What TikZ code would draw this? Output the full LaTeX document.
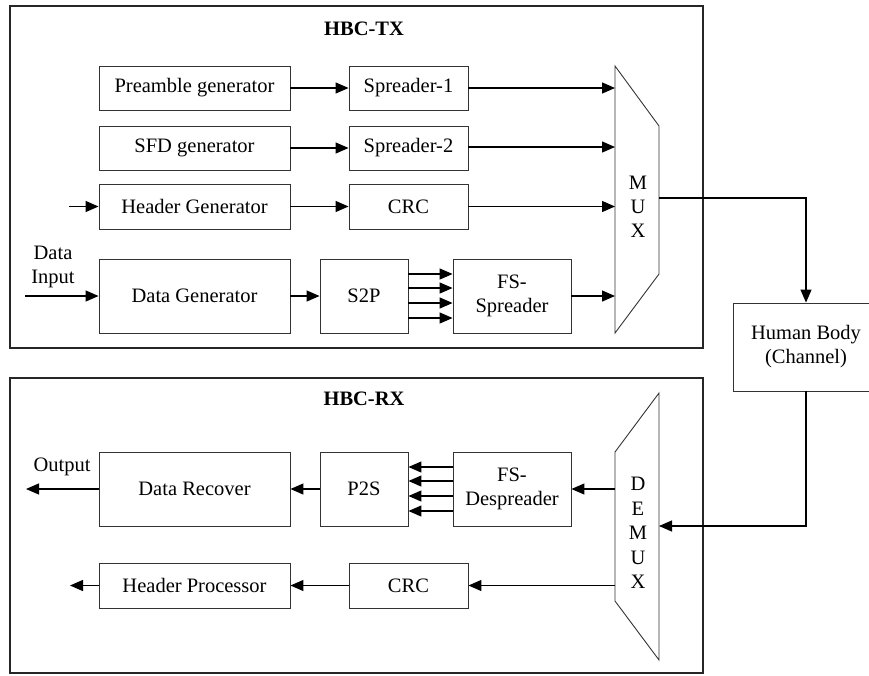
\documentclass[tikz,border=0pt]{standalone}
\usepackage{fontspec}
\setmainfont{Liberation Serif}
\usetikzlibrary{arrows.meta}
\begin{document}
\begin{tikzpicture}[x=1pt,y=-1pt,
  font=\fontsize{20.5}{24}\selectfont,
  blk/.style={draw=black!80,line width=0.9pt,rectangle,minimum height=44pt,inner sep=0pt,align=center},
  frame/.style={draw=black!85,line width=1.3pt},
  arr/.style={line width=1.3pt,-{Triangle[length=13pt,width=11pt]}},
  ln/.style={line width=1.3pt}]
\useasboundingbox (0,0) rectangle (869,675);
\clip (0,0) rectangle (869,675);
% frames
\draw[frame] (10,6) rectangle (703,348);
\draw[frame] (10,378) rectangle (703,673);
\node[font=\fontsize{20.5}{24}\selectfont\bfseries] (txt) at (364,29) {HBC-TX};
\node[font=\fontsize{20.5}{24}\selectfont\bfseries] (rxt) at (364,399) {HBC-RX};
% TX blocks
\node[blk,minimum width=191pt] (pre) at (194.5,88) {Preamble generator};
\node[blk,minimum width=119pt] (sp1) at (408.5,88) {Spreader-1};
\node[blk,minimum width=191pt] (sfd) at (194.5,148) {SFD generator};
\node[blk,minimum width=119pt] (sp2) at (408.5,148) {Spreader-2};
\node[blk,minimum width=191pt,minimum height=45pt] (hg) at (194.5,206.5) {Header Generator};
\node[blk,minimum width=119pt,minimum height=45pt] (crca) at (408.5,206.5) {CRC};
\node[blk,minimum width=191pt,minimum height=74pt] (dg) at (194.5,296) {Data Generator};
\node[blk,minimum width=88pt,minimum height=74pt] (s2p) at (364,296) {S2P};
\node[blk,minimum width=118pt,minimum height=74pt] (fss) at (512,296) {FS-\\Spreader};
% MUX
\draw[line width=0.9pt,draw=black!80] (615,66) -- (659,126) -- (659,274) -- (615,333) -- cycle;
\coordinate (muxL) at (615,200);
\coordinate (muxout) at (659,198);
\node[align=center,font=\fontsize{20.5}{24}\selectfont] (muxt) at (638,207) {M\\U\\X};
% Human body
\node[blk,minimum width=146pt,minimum height=88pt] (hb) at (806,347) {Human Body\\(Channel)};
% RX blocks
\node[blk,minimum width=191pt,minimum height=74pt] (dr) at (194.5,489) {Data Recover};
\node[blk,minimum width=88pt,minimum height=74pt] (p2s) at (364,489) {P2S};
\node[blk,minimum width=118pt,minimum height=74pt] (fsd) at (512,489) {FS-\\Despreader};
\node[blk,minimum width=191pt,minimum height=45pt] (hp) at (194.5,585.5) {Header Processor};
\node[blk,minimum width=119pt,minimum height=45pt] (crcb) at (408.5,585.5) {CRC};
% DEMUX
\draw[line width=0.9pt,draw=black!80] (615,452) -- (659,393) -- (659,660) -- (615,601) -- cycle;
\coordinate (dmxL) at (615,500);
\coordinate (dmxin) at (659,526);
\node[align=center,font=\fontsize{20.5}{24.4}\selectfont] (dmxt) at (638,533) {D\\E\\M\\U\\X};
% TX connectors
\draw[arr] (pre.east) -- (sp1.west);
\draw[arr] (sfd.east) -- (sp2.west);
\draw[arr] (hg.east) -- (crca.west);
\draw[arr] (dg.east) -- (s2p.west);
\draw[arr] (sp1.east) -- (sp1.east -| muxL);
\draw[arr] (sp2.east |- 0,147) -- (muxL |- 0,147);
\draw[arr] (crca.east) -- (crca.east -| muxL);
\draw[arr] (fss.east) -- (fss.east -| muxL);
\foreach \yy in {274,288,303,318}{
  \draw[arr] (s2p.east |- 0,\yy) -- (fss.west |- 0,\yy);
}
\coordinate (hin) at (69,206.5);
\coordinate (din) at (25,296);
\draw[arr] (hin) -- (hg.west);
\draw[arr] (din) -- (dg.west);
\node[align=center,font=\fontsize{20.5}{24}\selectfont] (dinl) at (53,267) {Data\\Input};
% channel
\draw[arr] (muxout) -| (hb.north);
\draw[arr] (hb.south) |- (dmxin);
% RX connectors
\draw[arr] (fsd.west |- 0,467) -- (p2s.east |- 0,467);
\draw[arr] (fsd.west |- 0,481) -- (p2s.east |- 0,481);
\draw[arr] (fsd.west |- 0,496) -- (p2s.east |- 0,496);
\draw[arr] (fsd.west |- 0,511) -- (p2s.east |- 0,511);
\draw[arr] (p2s.west) -- (dr.east);
\draw[arr] (dmxL |- fsd.east) -- (fsd.east);
\draw[arr] (dmxL |- crcb.east) -- (crcb.east);
\draw[arr] (crcb.west) -- (hp.east);
\coordinate (hout) at (70,585.5);
\coordinate (dout) at (26,489);
\draw[arr] (hp.west) -- (hout);
\draw[arr] (dr.west) -- (dout);
\node[font=\fontsize{20.5}{24}\selectfont] (outl) at (62,467) {Output};
\end{tikzpicture}
\end{document}
